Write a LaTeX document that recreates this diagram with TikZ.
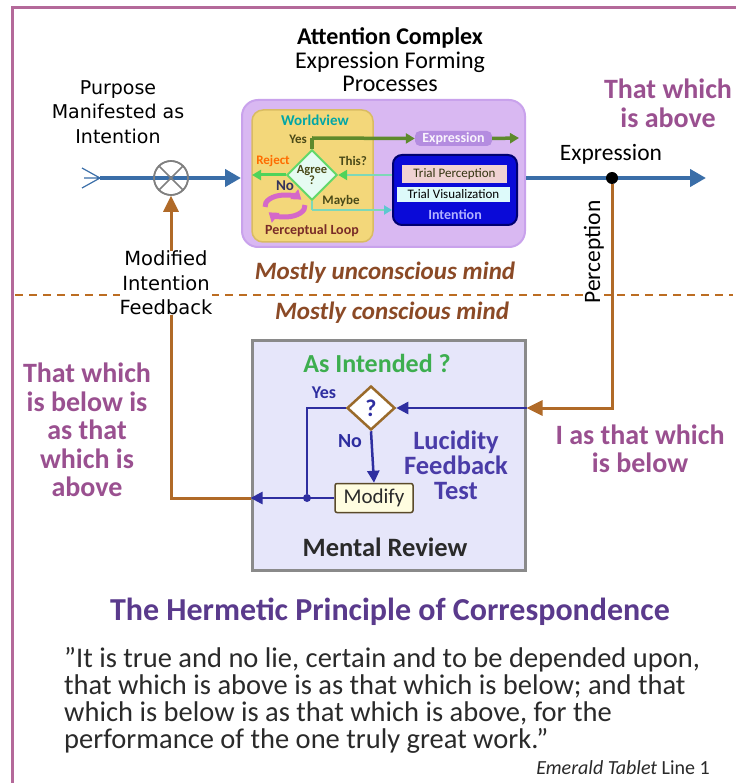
\documentclass[tikz,border=0pt]{standalone}
\usepackage{fontspec}
\setmainfont{Carlito}
\newfontfamily\dvs{DejaVu Sans}
\usetikzlibrary{arrows.meta,shapes.geometric,calc}
\newcommand\fsz[2]{\fontsize{#1}{#2}\selectfont}
\definecolor{framec}{HTML}{B4699A}
\definecolor{mainblue}{HTML}{3A6EA8}
\definecolor{brownc}{HTML}{B06A28}
\definecolor{purpc}{HTML}{9A5090}
\definecolor{mostlyc}{HTML}{8B4A26}
\definecolor{hermc}{HTML}{5A3A8C}
\definecolor{lucc}{HTML}{4A3CA8}
\definecolor{navyc}{HTML}{2E2EA0}
\definecolor{greenq}{HTML}{3DAE4F}
\definecolor{acfill}{HTML}{D9B8F2}
\definecolor{acdraw}{HTML}{C9A2EC}
\definecolor{wvfill}{HTML}{F3D77A}
\definecolor{wvdraw}{HTML}{D9BC62}
\definecolor{intfill}{HTML}{0A0AD8}
\definecolor{intdraw}{HTML}{000070}
\definecolor{tpfill}{HTML}{F0D2D2}
\definecolor{tvfill}{HTML}{DDFAFA}
\definecolor{exfill}{HTML}{B48CE0}
\definecolor{olivec}{HTML}{5E8A2C}
\definecolor{greenarr}{HTML}{4FD35A}
\definecolor{lightline}{HTML}{7ED8B8}
\definecolor{cyanarr}{HTML}{5CC8D0}
\definecolor{agreefill}{HTML}{E6FBF2}
\definecolor{agreedraw}{HTML}{62D86A}
\definecolor{loopc}{HTML}{D568C8}
\definecolor{modfill}{HTML}{FFFDE0}
\definecolor{moddraw}{HTML}{5A4A2A}
\definecolor{qdraw}{HTML}{9A6A2A}
\definecolor{mrfill}{HTML}{E6E6FA}
\definecolor{mrdraw}{HTML}{8A8A8A}
\definecolor{darkolive}{HTML}{4A4A18}
\definecolor{textc}{HTML}{2A2A2A}
\begin{document}
\begin{tikzpicture}[x=1pt,y=-1pt,
  bluearrow/.style={draw=mainblue,line width=4pt,-{Triangle[length=16pt,width=17pt]}},
  brownline/.style={draw=brownc,line width=3pt},
  brownarrow/.style={brownline,-{Triangle[length=16pt,width=15pt]}},
  navyline/.style={draw=navyc,line width=2.5pt},
  navyarrow/.style={navyline,-{Triangle[length=12pt,width=12pt]}},
  boxnode/.style={inner sep=0pt},
  lbl/.style={inner sep=1pt,align=center},
  small/.style={lbl,inner sep=0pt,font=\bfseries\fsz{13}{14}},
]
\useasboundingbox (0,0) rectangle (735,783);
\fill[white] (0,0) rectangle (735,783);
% frame
\draw[framec,line width=3pt] (12,790) -- (12,8) -- (740,8);

% dashed divider
\draw[brownc!85!orange,line width=2.5pt,dash pattern=on 8pt off 6pt] (15,295) -- (733,295);

% titles and labels (top)
\node[lbl,font=\fsz{24}{23.5}] (title) at (390,60) {{\bfseries Attention Complex}\\Expression Forming\\Processes};
\node[lbl,font=\dvs\fsz{19}{24.5}] (purpose) at (118,112) {Purpose\\Manifested as\\Intention};
\node[lbl,font=\bfseries\fsz{28}{29},text=purpc] (above) at (668,103) {That which\\is above};

% Attention complex box
\node[boxnode,draw=acdraw,line width=2pt,fill=acfill,rounded corners=16pt,minimum width=283pt,minimum height=147pt] (ac) at (383.5,173.5) {};
\node[boxnode,draw=wvdraw,line width=1.5pt,fill=wvfill,rounded corners=11pt,minimum width=121pt,minimum height=132pt] (wv) at (312.5,176) {};
\node[boxnode,draw=intdraw,line width=2pt,fill=intfill,rounded corners=9pt,minimum width=124pt,minimum height=70pt] (int) at (455,190) {};
\node[boxnode,fill=tpfill,minimum width=105pt,minimum height=18pt,font=\fsz{13}{14},text=darkolive!70!black] (tp) at (454.5,174) {Trial Perception};
\node[boxnode,fill=tvfill,minimum width=113pt,minimum height=15pt,font=\fsz{13}{14},text=black] (tv) at (453.5,194.5) {Trial Visualization};
\node[lbl,inner sep=0pt,font=\bfseries\fsz{14}{15},text=blue!30!white] (inttxt) at (455,215) {Intention};
\node[boxnode,fill=exfill,rounded corners=5pt,minimum width=77pt,minimum height=15pt,font=\bfseries\fsz{14}{15},text=white!85!acfill] (ex) at (453.5,138.5) {Expression};
\node[diamond,draw=agreedraw,line width=2pt,fill=agreefill,inner sep=0pt,minimum width=46pt,minimum height=40pt,align=center,font=\bfseries\fsz{12.5}{10.5},text=darkolive] (agree) at (312,175) {Agree\\?};
\node[lbl,inner sep=0pt,font=\bfseries\fsz{15}{16},text=teal!70!cyan] (wvt) at (315,120) {Worldview};
\node[small,text=darkolive] (yes1) at (298,139) {Yes};
\node[small,text=orange!85!red] (reject) at (273,161) {Reject};
\node[small,text=darkolive] (this) at (353,161) {This?};
\node[lbl,inner sep=0pt,font=\bfseries\fsz{15}{16},text=darkolive!70!blue] (no1) at (285,186) {No};
\node[small,text=darkolive] (maybe) at (341,201) {Maybe};
\node[lbl,inner sep=0pt,font=\bfseries\fsz{14}{15},text=darkolive!60!purple] (ploop) at (312,231) {Perceptual Loop};
\coordinate (pl) at (285,206);
\draw[loopc,line width=5pt,-{Triangle[length=9pt,width=12pt]}] ($(pl)+(175:20 and 11)$) arc[start angle=175,end angle=325,x radius=20,y radius=11];
\draw[loopc,line width=5pt,-{Triangle[length=9pt,width=12pt]}] ($(pl)+(-5:20 and 11)$) arc[start angle=-5,end angle=145,x radius=20,y radius=11];
% internal connectors
\coordinate (ycorner) at (312,138);
\coordinate (exend) at (519,138);
\draw[olivec,line width=3.5pt] (agree.north) -- (ycorner);
\draw[olivec,line width=3.5pt,-{Triangle[length=9pt,width=10pt]}] (ycorner) -- (ex.west);
\draw[olivec,line width=3.5pt,-{Triangle[length=9pt,width=10pt]}] (ex.east) -- (exend);
\coordinate (rejend) at (252,175);
\draw[greenarr,line width=3pt,-{Triangle[length=9pt,width=10pt]}] (agree.west) -- (rejend);
\draw[lightline,line width=2.5pt,-{Triangle[length=9pt,width=10pt,color=greenarr]}] (int.west |- agree) -- (agree.east);
\coordinate (mcorner) at (312,210);
\draw[lightline,line width=2.5pt] (agree.south) -- (mcorner);
\draw[lightline,line width=2.5pt,-{Triangle[length=8pt,width=9pt,color=cyanarr]}] (mcorner) -- (int.west |- mcorner);

% main line
\coordinate (tail) at (100,178);
\coordinate (outend) at (706,178);
\node[circle,draw=gray,line width=1.6pt,minimum size=34pt,inner sep=0pt] (sum) at (171,178) {};
\draw[mainblue,line width=1.2pt] (tail) -- (82,168) (tail) -- (82,188) (tail) -- (84,178);
\draw[bluearrow] (tail) -- (ac.west |- sum);
\draw[gray,line width=1.6pt] (sum.north west) -- (sum.south east) (sum.north east) -- (sum.south west);
\node[circle,draw=gray,line width=1.6pt,minimum size=34pt,inner sep=0pt] at (sum) {};
\draw[bluearrow] (ac.east |- sum) -- (outend);
\node[circle,fill=black,minimum size=12pt,inner sep=0pt] (dot) at (612,178) {};
\node[lbl,font=\fsz{23.5}{24}] (exlabel) at (611,154) {Expression};

% Mental review box
\node[boxnode,draw=mrdraw,fill=mrfill,line width=3pt,minimum width=273pt,minimum height=230pt] (mr) at (388.5,455) {};
\node[diamond,draw=qdraw,fill=white,line width=2.5pt,inner sep=0pt,minimum width=48pt,minimum height=44pt,font=\bfseries\fsz{24}{24},text=navyc] (qd) at (371,408) {?};
\node[boxnode,draw=moddraw,fill=modfill,line width=1.5pt,rounded corners=2pt,minimum width=78pt,minimum height=29pt,font=\fsz{21}{22},text=textc] (mod) at (374,498) {Modify};
\coordinate (yc) at (307,408);
\node[circle,fill=navyc,minimum size=8pt,inner sep=0pt] (jn) at (307,498) {};
\draw[navyline] (qd.west) -- (yc) -- (jn);
\draw[navyarrow] (qd.south) -- (mod.north);
\draw[navyarrow] (mod.west) -- (mr.west |- mod);
\draw[navyarrow] (mr.east |- qd) -- (qd.east);

% brown feedback lines
\draw[brownarrow] (dot) -- (dot |- qd) -- (mr.east |- qd);
\draw[brownarrow] (mr.west |- mod) -- (sum |- mod) -- (sum.south);

% labels over lines
\node[lbl,fill=white,inner sep=0pt,rotate=90,font=\fsz{23.5}{24}] (perc) at (594,252) {Perception};
\node[lbl,fill=white,inner sep=0pt,font=\dvs\fsz{19.5}{24.5}] (mif) at (166,283) {Modified\\Intention\\Feedback};
\node[lbl,font=\bfseries\itshape\fsz{25}{26},text=mostlyc] (uncon) at (385,273) {Mostly unconscious mind};
\node[lbl,font=\bfseries\itshape\fsz{25}{26},text=mostlyc] (con) at (392,313) {Mostly conscious mind};

% mental review texts
\node[lbl,font=\bfseries\fsz{26}{26},text=greenq] (asint) at (377,363) {As Intended ?};
\node[lbl,font=\bfseries\fsz{18}{18},text=navyc] (yes2) at (324,393) {Yes};
\node[lbl,font=\bfseries\fsz{20}{20},text=navyc] (no2) at (350,441) {No};
\node[lbl,font=\bfseries\fsz{26.5}{25},text=lucc] (luc) at (456,465) {Lucidity\\Feedback\\Test};
\node[lbl,font=\bfseries\fsz{26.5}{26},text=textc] (mrt) at (385,547) {Mental Review};

% side texts
\node[lbl,font=\bfseries\fsz{28}{28.5},text=purpc] (below) at (87,430) {That which\\is below is\\as that\\which is\\above};
\node[lbl,font=\bfseries\fsz{28}{28},text=purpc] (ias) at (640,449) {I as that which\\is below};

% bottom
\node[lbl,font=\bfseries\fsz{32}{32},text=hermc] (herm) at (390,612) {The Hermetic Principle of Correspondence};
\node[lbl,anchor=west,align=left,font=\fsz{28.5}{27},text=textc] (quote) at (63,700.5) {”It is true and no lie, certain and to be depended upon,\\that which is above is as that which is below; and that\\which is below is as that which is above, for the\\performance of the one truly great work.”};
\node[lbl,anchor=east,font=\fsz{20}{21},text=textc] (emer) at (711,768) {{\itshape Emerald Tablet} Line 1};
\end{tikzpicture}
\end{document}
